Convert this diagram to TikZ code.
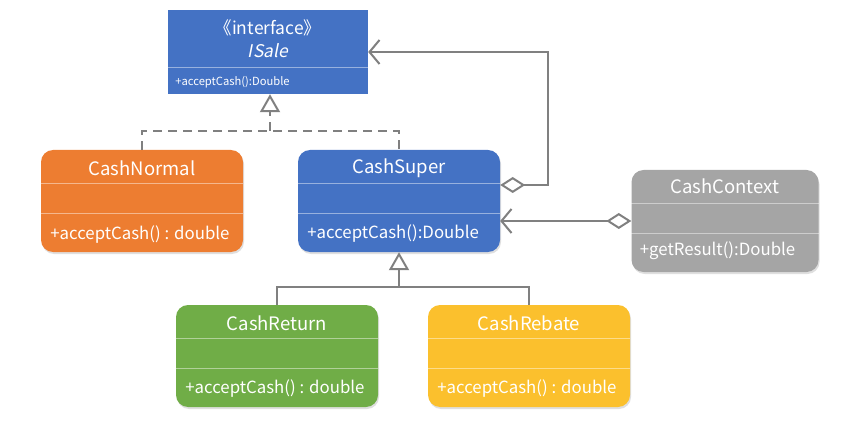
\documentclass[tikz,border=0pt]{standalone}
\usepackage{fontspec}
\setmainfont{Noto Sans CJK SC}[AutoFakeSlant=0.2]
\usetikzlibrary{arrows.meta, positioning, shadows, calc}
\definecolor{SaleBlue}    {HTML}{4472C4}
\definecolor{NormalOrange}{HTML}{ED7D31}
\definecolor{ContextGray} {HTML}{A5A5A5}
\definecolor{ReturnGreen} {HTML}{70AD47}
\definecolor{RebateYellow}{HTML}{FBC02D}
\definecolor{LineGray}    {HTML}{808080}

\begin{document}
\begin{tikzpicture}[
  x=1pt, y=-1pt,
  cls/.style  = {fill=#1, rounded corners=12pt, inner sep=0pt,
                 minimum width=202pt, minimum height=102pt,
                 drop shadow={opacity=0.25, shadow xshift=1pt, shadow yshift=-2pt}},
  ttl/.style  = {text=white, font=\fontsize{18.5}{21}\selectfont},
  mth/.style  = {text=white, font=\fontsize{16.8}{19}\selectfont, anchor=west},
  sep/.style  = {draw=white, draw opacity=0.45, line width=0.8pt},
  ln/.style   = {draw=LineGray, line width=2.2pt},
  dln/.style  = {ln, dash pattern=on 9pt off 6pt},
  tri/.style  = {-{Triangle[open, length=18pt, width=20pt, line width=2pt]}},
  agg/.style  = {{Diamond[open, length=25pt, width=16pt, line width=2pt]}-{Straight Barb[length=10pt, width=24pt, line width=2pt]}},
]
\useasboundingbox (0,0) rectangle (862,422);

% interface
\node[fill=SaleBlue, minimum width=200pt, minimum height=84pt, inner sep=0pt] (isale) at (268,52) {};
\draw[sep] ([yshift=-15pt]isale.west) -- ([yshift=-15pt]isale.east);
\node[ttl, font=\fontsize{17.5}{20}\selectfont] (isale-s) at ([yshift=-18pt]isale.north) {《interface》};
\node[ttl, font=\fontsize{17.5}{20}\itshape] (isale-t) at ([yshift=-41pt]isale.north) {ISale};
\node[mth, font=\fontsize{11.2}{13}\selectfont] (isale-m) at ([xshift=4pt, yshift=12pt]isale.south west) {+acceptCash():Double};

% classes
\node[cls=NormalOrange] (normal) at (142,201) {};
\node[cls=SaleBlue]     (super)  at (399,201) {};
\node[cls=ContextGray, minimum width=187pt] (context) at (725,221) {};
\node[cls=ReturnGreen]  (ret)    at (277,356) {};
\node[cls=RebateYellow] (reb)    at (529,356) {};

\foreach \c in {normal, super, context, ret, reb} {
  \draw[sep] ([yshift=-34pt]\c.north west) -- ([yshift=-34pt]\c.north east);
  \draw[sep] ([yshift=-64pt]\c.north west) -- ([yshift=-64pt]\c.north east);
}

\node[ttl] (normal-t)  at ([yshift=-18pt]normal.north)  {CashNormal};
\node[ttl] (super-t)   at ([yshift=-18pt]super.north)   {CashSuper};
\node[ttl] (context-t) at ([yshift=-16pt]context.north) {CashContext};
\node[ttl] (ret-t)     at ([yshift=-18pt]ret.north)     {CashReturn};
\node[ttl] (reb-t)     at ([yshift=-18pt]reb.north)     {CashRebate};

\node[mth] (normal-m)  at ([xshift=6pt, yshift=18pt]normal.south west)  {+acceptCash() : double};
\node[mth] (super-m)   at ([xshift=6pt, yshift=19pt]super.south west)   {+acceptCash():Double};
\node[mth] (context-m) at ([xshift=5pt, yshift=21pt]context.south west) {+getResult():Double};
\node[mth] (ret-m)     at ([xshift=6pt, yshift=19pt]ret.south west)     {+acceptCash() : double};
\node[mth] (reb-m)     at ([xshift=6pt, yshift=19pt]reb.south west)     {+acceptCash() : double};

% connectors
\coordinate (rj) at (270,131);
\coordinate (gj) at (399,287);
\coordinate (ac) at (548,185);
\draw[dln] (normal.north) |- (rj) -| (super.north);
\draw[dln, tri] (rj) -- (rj |- isale.south);
\draw[ln] (ret.north) |- (gj) -| (reb.north);
\draw[ln, tri] (gj) -- (super.south);
\draw[ln, agg] (super.east |- ac) -- (ac) |- (isale.east);
\draw[ln, agg] (context.west) -- (context.west -| super.east);
\end{tikzpicture}
\end{document}
